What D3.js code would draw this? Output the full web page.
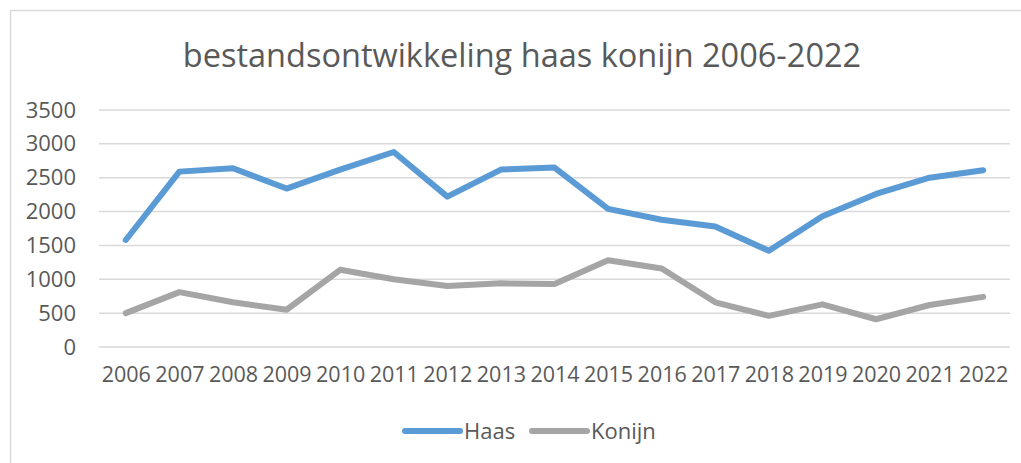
<!DOCTYPE html>
<meta charset="utf-8">
<style>
body { margin: 0; background: #fff; }
text { font-family: "Open Sans", sans-serif; fill: #595959; }
.grid line { stroke: #d9d9d9; stroke-width: 1.5px; }
.line { fill: none; stroke-width: 6px; stroke-linecap: round; stroke-linejoin: round; }
</style>
<body>
<script src="https://d3js.org/d3.v7.min.js"></script>
<script>

// data
var years = ["2006","2007","2008","2009","2010","2011","2012","2013","2014","2015","2016","2017","2018","2019","2020","2021","2022"];
var haas = [1580, 2590, 2640, 2340, 2620, 2880, 2220, 2620, 2650, 2040, 1880, 1780, 1420, 1930, 2260, 2500, 2610];
var konijn = [500, 810, 660, 550, 1140, 1000, 900, 940, 930, 1280, 1160, 660, 460, 630, 410, 620, 740];
var yTicks = [0, 500, 1000, 1500, 2000, 2500, 3000, 3500];

var series = [
  {name: "Haas", values: haas, color: "#5b9bd5"},
  {name: "Konijn", values: konijn, color: "#a5a5a5"}
];

var W = 1021, H = 463;
var margin = {top: 110, right: 11, bottom: 116, left: 99},
    width = W - margin.left - margin.right,
    height = H - margin.top - margin.bottom;

var svg = d3.select("body").append("svg")
    .attr("width", W)
    .attr("height", H);

// chart frame (runs off the right and bottom edge)
svg.append("rect")
    .attr("x", 10.5).attr("y", 10.5)
    .attr("width", W).attr("height", H)
    .attr("fill", "none")
    .attr("stroke", "#d9d9d9")
    .attr("stroke-width", 1.5);

svg.append("text")
    .attr("x", 522).attr("y", 67)
    .attr("text-anchor", "middle")
    .style("font-size", "32.5px")
    .text("bestandsontwikkeling haas konijn 2006-2022");

var g = svg.append("g")
    .attr("transform", "translate(" + margin.left + "," + margin.top + ")");

var x = d3.scalePoint().domain(years).range([0, width]).padding(0.5);
var y = d3.scaleLinear().domain([0, 3500]).range([height, 0]);

// gridlines
g.append("g").attr("class", "grid")
  .selectAll("line").data(yTicks).enter().append("line")
    .attr("x1", 0).attr("x2", width)
    .attr("y1", function(d) { return y(d); })
    .attr("y2", function(d) { return y(d); });

// y axis labels
var yAxis = g.append("g")
    .call(d3.axisLeft(y).tickValues(yTicks).tickFormat(d3.format("d")).tickSize(0).tickPadding(23));
yAxis.select(".domain").remove();
yAxis.selectAll("text").style("font-size", "22px").attr("fill", "#595959");

// x axis labels
var xAxis = g.append("g")
    .attr("transform", "translate(0," + height + ")")
    .call(d3.axisBottom(x).tickSize(0).tickPadding(20));
xAxis.select(".domain").remove();
xAxis.selectAll("text").style("font-size", "21.5px").attr("fill", "#595959");

var line = d3.line()
    .x(function(d, i) { return x(years[i]); })
    .y(function(d) { return y(d); });

series.forEach(function(s) {
  g.append("path")
      .datum(s.values)
      .attr("class", "line")
      .style("stroke", s.color)
      .attr("d", line);
});

// legend
var legendX = [405, 532];
var leg = svg.append("g").selectAll("g").data(series).enter().append("g")
    .attr("transform", function(d, i) { return "translate(" + legendX[i] + ",431)"; });
leg.append("line")
    .attr("x1", 0).attr("x2", 55)
    .attr("stroke", function(d) { return d.color; })
    .attr("stroke-width", 6)
    .attr("stroke-linecap", "round");
leg.append("text")
    .attr("x", 59).attr("dy", "0.35em")
    .style("font-size", "22px")
    .text(function(d) { return d.name; });
</script>
</body>
